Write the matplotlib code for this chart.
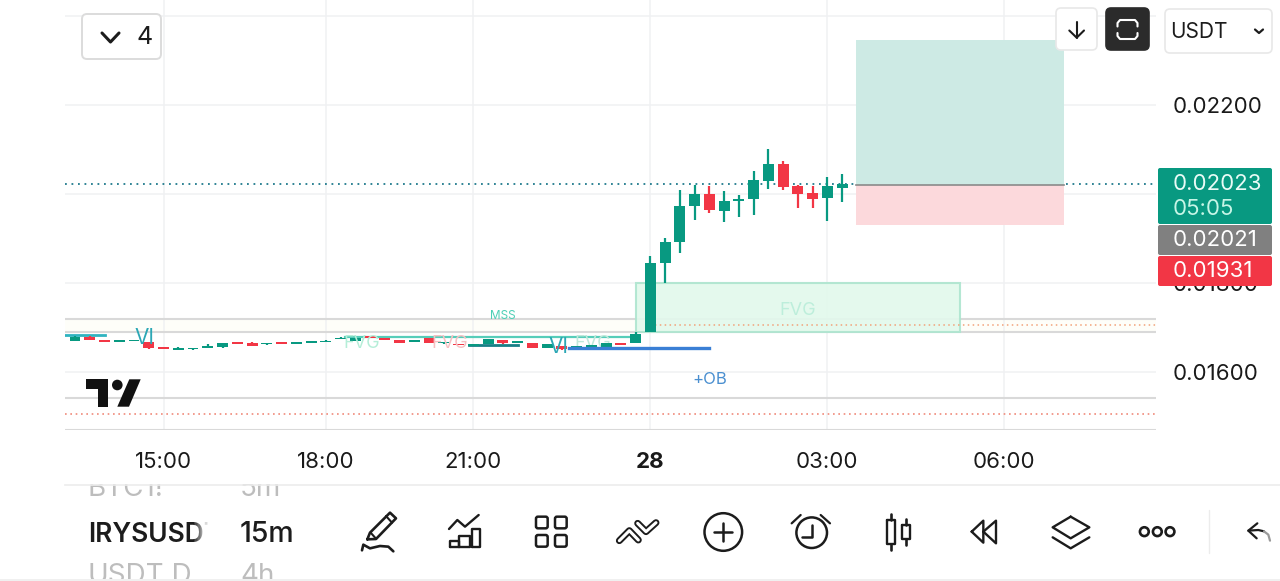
import matplotlib
matplotlib.use("Agg")
import matplotlib.pyplot as plt
from matplotlib.patches import FancyBboxPatch, Rectangle, Circle, Polygon

plt.rcParams['font.family'] = ['Inter', 'DejaVu Sans']

# ---------- data ----------
bar_index = list(range(-39, 14))
opens = [0.016703,0.016787,0.016719,0.016681,0.016703,0.016674,0.016562,0.016501,0.016510,0.016539,
         0.016562,0.016667,0.016659,0.016622,0.016667,0.016636,0.016652,0.016674,0.016749,0.016703,
         0.016803,0.016764,0.016719,0.016681,0.016757,0.016645,0.016629,0.016591,0.016636,0.016719,
         0.016652,0.016652,0.016539,0.016584,0.016523,0.016539,0.016555,0.016645,0.016652,
         0.016892,0.018456,0.018928,0.019724,0.019993,0.019625,0.019836,0.019895,0.020292,0.020674,
         0.020180,0.020023,0.019917,0.020142]
highs = [0.016800,0.016816,0.016725,0.016719,0.016725,0.016680,0.016570,0.016555,0.016550,0.016622,
         0.016660,0.016680,0.016665,0.016658,0.016675,0.016672,0.016695,0.016720,0.016785,0.016775,
         0.016810,0.016772,0.016725,0.016725,0.016762,0.016672,0.016635,0.016630,0.016742,0.016725,
         0.016703,0.016658,0.016635,0.016590,0.016590,0.016612,0.016652,0.016652,0.016891,
         0.018600,0.019005,0.020083,0.020202,0.020180,0.020068,0.019971,0.020524,0.021011,0.020742,
         0.020202,0.020180,0.020382,0.020443]
lows = [0.016690,0.016710,0.016675,0.016675,0.016697,0.016517,0.016510,0.016494,0.016490,0.016530,
        0.016532,0.016630,0.016585,0.016615,0.016630,0.016630,0.016645,0.016668,0.016740,0.016695,
        0.016758,0.016712,0.016646,0.016675,0.016652,0.016630,0.016600,0.016585,0.016630,0.016638,
        0.016645,0.016540,0.016530,0.016500,0.016515,0.016530,0.016548,0.016600,0.016646,
        0.016892,0.018007,0.018668,0.019416,0.019566,0.019378,0.019490,0.019535,0.020119,0.020083,
        0.019686,0.019686,0.019400,0.019820]
closes = [0.016787,0.016726,0.016681,0.016712,0.016719,0.016539,0.016517,0.016539,0.016532,0.016591,
          0.016652,0.016636,0.016591,0.016652,0.016636,0.016667,0.016690,0.016697,0.016771,0.016757,
          0.016764,0.016719,0.016652,0.016712,0.016659,0.016667,0.016607,0.016622,0.016735,0.016645,
          0.016697,0.016546,0.016629,0.016523,0.016584,0.016600,0.016645,0.016607,0.016846,
          0.018450,0.018922,0.019730,0.019993,0.019641,0.019843,0.019888,0.020308,0.020674,0.020164,
          0.020007,0.019895,0.020180,0.020230]

time_ticks = [-33, -22, -12, 0, 12, 24]
time_labels = ['15:00', '18:00', '21:00', '28', '03:00', '06:00']
price_ticks = [0.016, 0.018, 0.020, 0.022, 0.024]
price_labels = ['0.01600', '0.01800', '', '0.02200', '']
gray_levels = [0.017191, 0.016888, 0.015405, 0.014708]
last_price = 0.02023
entry_price = 0.02021
stop_price = 0.01931
target_price = 0.023461
red_dotted = 0.015057
orange_dotted = 0.017057
fvg_top, fvg_bottom = 0.0180, 0.0169
ob_price = 0.016539

GREEN, RED = '#089981', '#f23645'
W, H = 1280, 581

fig = plt.figure(figsize=(W / 100, H / 100), dpi=100, facecolor='white')

def px_axes(l, t, r, b):
    return [l / W, 1 - b / H, (r - l) / W, (b - t) / H]

# ---------- chart ----------
ax = fig.add_axes(px_axes(65, 0, 1156, 430), zorder=1)
ax.set_xlim(-39.68, 34.28)
ax.set_ylim(0.014697, 0.024359)
for s in ax.spines.values():
    s.set_visible(False)
ax.set_xticks(time_ticks)
ax.set_xticklabels(time_labels, fontsize=16, color='#1a1a1a')
ax.get_xticklabels()[3].set_fontweight('bold')
ax.set_yticks(price_ticks)
ax.set_yticklabels(price_labels, fontsize=16, color='#1a1a1a')
ax.yaxis.tick_right()
ax.tick_params(axis='x', length=0, pad=15.8)
ax.tick_params(axis='y', length=0, pad=12)
ax.grid(True, color='#f0f1f3', lw=1.1)
ax.set_axisbelow(True)

# band + horizontal levels
ax.axhspan(gray_levels[1], gray_levels[0], color='#fefef9', zorder=0.5, lw=0)
for lv in gray_levels:
    ax.axhline(lv, color='#d9d9d9', lw=1.5, zorder=1)
ax.axhline(red_dotted, color='#f08a7a', lw=1.2, ls=(0, (1, 2.2)), zorder=1.2)
ax.plot([0, 34.28], [orange_dotted] * 2, color='#f2a27a', lw=1.1, ls=(0, (1, 2.2)), zorder=2.5)
ax.axhline(last_price, color='#1f7a8c', lw=1.3, ls=(0, (1, 2.6)), zorder=1.5)

# position boxes
ax.add_patch(Rectangle((13.93, entry_price), 14.14, target_price - entry_price, fc='#cdeae4', ec='none', zorder=2))
ax.add_patch(Rectangle((13.93, stop_price), 14.14, entry_price - stop_price, fc='#fcd9dc', ec='none', zorder=2))
ax.plot([13.93, 28.07], [entry_price] * 2, color='#8a8a8a', lw=1.2, zorder=2.1)

# FVG box
ax.add_patch(Rectangle((-1, fvg_bottom), 22, fvg_top - fvg_bottom, fc='#e2f9ec', ec='#ade5cf', lw=1.5, alpha=0.9, zorder=2))
ax.text(10, 0.017375, 'FVG', color='#bdeedb', fontsize=13, ha='center', va='center', zorder=2.6)

# indicator lines
ax.plot([-39.68, -37], [0.016839] * 2, color='#2fb3c0', lw=2, zorder=2.2)
ax.plot([-20.7, -1], [0.016794] * 2, color='#56cdb9', lw=1.6, zorder=2.2)
ax.plot([-12.3, -9], [0.016607] * 2, color='#177f86', lw=2, zorder=2.2)
ax.plot([-5.5, 4], [ob_price] * 2, color='#3a7fd5', lw=2.4, zorder=3.5)

# candles
for i, o, h, l, c in zip(bar_index, opens, highs, lows, closes):
    col = GREEN if c >= o else RED
    ax.vlines(i, l, h, color=col, lw=1.6, zorder=3)
    ax.bar(i, max(abs(c - o), 0.00001), bottom=min(o, c), width=0.74, color=col, lw=0, zorder=3)

# labels
ax.text(-34.26, 0.016770, 'VI', color='#2ba7b5', fontsize=15, ha='center', va='center', zorder=4)
ax.text(-6.24, 0.016570, 'VI', color='#2ba7b5', fontsize=15, ha='center', va='center', zorder=4)
ax.text(-19.55, 0.016640, 'FVG', color='#b5eed8', fontsize=13, ha='center', va='center', zorder=4)
ax.text(-13.58, 0.016640, 'FVG', color='#f6c0c2', fontsize=13, ha='center', va='center', zorder=4)
ax.text(-3.9, 0.016640, 'FVG', color='#bfe8da', fontsize=13, ha='center', va='center', zorder=2.9)
ax.text(-10.0, 0.017250, 'MSS', color='#4ccfb5', fontsize=8.5, ha='center', va='center', zorder=4)
ax.text(4.0, 0.015825, '+OB', color='#4a8fd0', fontsize=12, ha='center', va='center', zorder=4)

# ---------- overlay (app chrome) ----------
ui = fig.add_axes([0, 0, 1, 1], zorder=2)
ui.set_xlim(0, W)
ui.set_ylim(H, 0)
ui.axis('off')
ui.patch.set_alpha(0)

INK = '#1c1c1c'

def box(l, t, r, b, fc='white', ec='#e4e4e4', rad=5, lw=1.2, z=5):
    ui.add_patch(FancyBboxPatch((l + rad, t + rad), r - l - 2 * rad, b - t - 2 * rad,
                                boxstyle=f'round,pad={rad},rounding_size={rad}',
                                fc=fc, ec=ec, lw=lw, zorder=z))

def stroke(pts, z5=False, z6=False, color=INK, lw=1.6, z=6, **kw):
    if z5:
        pts = [(340 + x / 3, 490 + y / 3) for x, y in pts]
    if z6:
        pts = [(800 + x / 3, 490 + y / 3) for x, y in pts]
    xs, ys = zip(*pts)
    ui.plot(xs, ys, color=color, lw=lw, zorder=z, solid_capstyle='round', solid_joinstyle='round', **kw)

# top-left button
box(82, 14, 161, 59, ec='#dcdcdc', lw=1.4)
stroke([(102, 33), (110.5, 42), (119, 33)], lw=2.2)
ui.text(145, 37.5, '4', fontsize=18, color=INK, ha='center', va='center', zorder=6)

# top-right buttons
box(1056, 8, 1097, 50, ec='#e8e8e8')
stroke([(1076.7, 21.5), (1076.7, 37.7)], lw=1.5)
stroke([(1069.3, 30.5), (1076.7, 37.7), (1084, 30.5)], lw=1.5)
box(1106, 8, 1149, 50, fc='#2b2b2b', ec='#2b2b2b')
stroke([(1117.5, 26.5), (1117.5, 23), (1120, 20), (1135, 20), (1137.5, 23), (1137.5, 26.5)], color='white', lw=1.5)
stroke([(1117.5, 33), (1117.5, 36), (1120, 39), (1135, 39), (1137.5, 36), (1137.5, 33)], color='white', lw=1.5)
box(1165, 9, 1272, 53, ec='#e8e8e8')
ui.text(1170, 31.5, 'USDT', fontsize=15, color=INK, ha='left', va='center', zorder=6)
stroke([(1255, 29.5), (1259, 33), (1263, 29.5)], lw=1.6)

# price tags
ui.add_patch(FancyBboxPatch((1159, 169), 112, 54, boxstyle='round,pad=1,rounding_size=2', fc=GREEN, ec='none', zorder=5))
ui.add_patch(FancyBboxPatch((1159, 226), 112, 28, boxstyle='round,pad=1,rounding_size=2', fc='#808080', ec='none', zorder=5))
ui.add_patch(FancyBboxPatch((1159, 257), 112, 28, boxstyle='round,pad=1,rounding_size=2', fc=RED, ec='none', zorder=5.1))
ui.text(1173, 184, f'{last_price:.5f}', fontsize=16, color='#e8fbf6', va='center', zorder=6)
ui.text(1173, 209, '05:05', fontsize=16, color='#c6f5e6', va='center', zorder=6)
ui.text(1173, 240, f'{entry_price:.5f}', fontsize=16, color='white', va='center', zorder=6)
ui.text(1173, 271, f'{stop_price:.5f}', fontsize=16, color='white', va='center', zorder=6)

# logo
ui.add_patch(Polygon([(86, 379.3), (108.3, 379.3), (108.3, 406.7), (97.7, 406.7), (97.7, 389.3), (86, 389.3)], fc='#111111', ec='none', zorder=5))
ui.add_patch(Circle((117.3, 385), 5.3, fc='#111111', ec='none', zorder=5))
ui.add_patch(Polygon([(129.3, 379.3), (140.7, 379.3), (129, 406.7), (117.3, 406.7)], fc='#111111', ec='none', zorder=5))

# bottom panel
ui.text(88, 489.5, 'BTC1!', fontsize=20, color='#bdbdbd', va='center', zorder=6)
ui.text(240, 489.5, '5m', fontsize=20, color='#bdbdbd', va='center', zorder=6)
ui.text(88, 534.5, 'IRYSUSDT', fontsize=19, fontweight='semibold', color='#1c1c1c', va='center', zorder=6)
ui.text(240, 534, '15m', fontsize=20.5, fontweight='medium', color='#1c1c1c', va='center', zorder=6)
ui.text(88, 576, 'USDT.D', fontsize=20, color='#bdbdbd', va='center', zorder=6)
ui.text(240, 576, '4h', fontsize=20, color='#bdbdbd', va='center', zorder=6)
ui.add_patch(Rectangle((60, 472), 300, 12, fc='white', ec='none', zorder=7))
ui.add_patch(Rectangle((0, 579), W, 2, fc='#f0f0f0', ec='none', zorder=7))
for k in range(10):
    ui.add_patch(Rectangle((194 + k * 1.4, 515), 1.4, 36, fc='white', ec='none', alpha=0.12 + 0.09 * k, zorder=7))
ui.add_patch(Rectangle((208, 515), 28, 36, fc='white', ec='none', zorder=7))
ui.plot([65, W], [484.5, 484.5], color='#ececec', lw=1.2, zorder=8)

# icons (pencil)
stroke([(82, 148), (90, 128), (150, 68), (168, 85), (108, 147), (82, 148)], z5=True, lw=1.9)
stroke([(138, 78), (156, 98)], z5=True, lw=1.5)
stroke([(92, 128), (108, 146)], z5=True, lw=1.5)
stroke([(66, 181), (70, 164), (90, 175), (120, 168), (145, 170), (160, 184)], z5=True, lw=1.9)
# analytics
stroke([(327, 117), (352, 90), (375, 110), (416, 75)], z5=True, lw=1.7)
for l, t, r, b in [(330, 152, 358, 172), (358, 138, 390, 172), (395, 118, 420, 172)]:
    stroke([(l, b), (l, t), (r, t), (r, b), (l, b)], z5=True, lw=1.7)
# grid
for l, t in [(588, 80), (645, 80), (588, 135), (645, 135)]:
    ui.add_patch(FancyBboxPatch((340 + (l + 6) / 3, 490 + (t + 6) / 3), 23 / 3, 23 / 3,
                                boxstyle='round,pad=2,rounding_size=2', fc='white', ec=INK, lw=1.8, zorder=6))
# chevrons
stroke([(838, 152), (868, 122), (895, 150)], z5=True, lw=5, z=6)
stroke([(838, 152), (868, 122), (895, 150)], z5=True, lw=2.2, color='white', z=6.1)
stroke([(893, 100), (918, 125), (948, 98)], z5=True, lw=5, z=6)
stroke([(893, 100), (918, 125), (948, 98)], z5=True, lw=2.2, color='white', z=6.1)
# plus
ui.add_patch(Circle((723.3, 532), 18.8, fc='none', ec=INK, lw=1.8, zorder=6))
stroke([(714.3, 532), (732.3, 532)], lw=1.8)
stroke([(723.3, 523), (723.3, 541)], lw=1.8)
# alarm
ui.add_patch(Circle((811.7, 532.7), 15.3, fc='none', ec=INK, lw=1.8, zorder=6))
stroke([(35, 105), (35, 140), (5, 140)], z6=True, lw=1.8)
stroke([(62, 75), (90, 100)], z6=True, lw=1.6)
stroke([(1355, 100), (1382, 75)], z5=True, lw=1.6)
# candles icon
for x, t, b, tw, bw in [(273, 90, 162, 72, 180), (318, 105, 148, 88, 165)]:
    stroke([(x - 12, t), (x + 12, t), (x + 12, b), (x - 12, b), (x - 12, t)], z6=True, lw=1.7)
    stroke([(x, tw), (x, t)], z6=True, lw=1.9)
    stroke([(x, b), (x, bw)], z6=True, lw=1.9)
# rewind
stroke([(515, 125), (550, 92), (550, 158), (515, 125)], z6=True, lw=1.7)
stroke([(550, 125), (588, 92), (588, 160), (550, 125)], z6=True, lw=1.7)
# layers
stroke([(812, 80), (868, 112), (812, 145), (758, 112), (812, 80)], z6=True, lw=1.7)
stroke([(758, 142), (812, 175), (868, 142)], z6=True, lw=1.7)
# dots
for x in (1033, 1072, 1110):
    ui.add_patch(Circle((800 + x / 3, 490 + 125 / 3), 4.4, fc='white', ec=INK, lw=1.9, zorder=6))
# divider + undo
stroke([(1226, 60), (1226, 190)], z6=True, color='#ececec', lw=1)
stroke([(1372, 100), (1345, 122), (1370, 145)], z6=True, lw=1.6)
stroke([(1345, 122), (1375, 120), (1392, 124)], z6=True, lw=1.6)
stroke([(1392, 124), (1405, 134), (1410, 152)], z6=True, color='#9a9a9a', lw=1.6)

fig.savefig('out.png', dpi=100, facecolor='white')
